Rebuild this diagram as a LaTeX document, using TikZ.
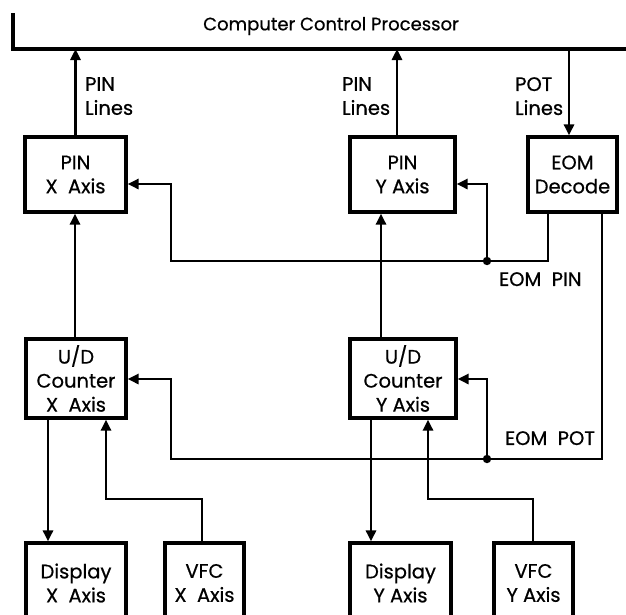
\documentclass[tikz,border=0pt]{standalone}
\usepackage{fontspec}
\setmainfont{Poppins}[FakeBold=0.6]
\usetikzlibrary{arrows.meta}
\tikzset{
  blk/.style={draw, line width=3.2pt, align=center, inner sep=0pt, font=\fontsize{19.5}{24}\selectfont},
  sig/.style={line width=2.8pt, -{Triangle[length=11pt,width=10pt]}},
  lbl/.style={align=left, anchor=north west, inner sep=0pt, font=\fontsize{19.5}{24}\selectfont},
}
\begin{document}
\begin{tikzpicture}[x=1pt,y=-1pt]
    \clip (0,0) rectangle (626,614);
    % processor bus
    \draw[line width=3.2pt] (13,13) -- (13,49) -- (626,49);
    \coordinate (bus) at (13,49);
    \node[font=\fontsize{18}{20}\selectfont] (cpu) at (331,26) {Computer Control Processor};
    % upper row
    \node[blk, minimum width=101pt, minimum height=75pt] (pinx) at (75.5,174.5) {PIN\\X\ \ Axis};
    \node[blk, minimum width=105pt, minimum height=75pt] (piny) at (402.5,174.5) {PIN\\Y Axis};
    \node[blk, minimum width=89pt, minimum height=75pt] (eom) at (572.5,174.5) {EOM\\Decode};
    % counters
    \node[blk, minimum width=100pt, minimum height=79pt] (udx) at (76,378.5) {U/D\\Counter\\X\ \ Axis};
    \node[blk, minimum width=106pt, minimum height=79pt] (udy) at (403,378.5) {U/D\\Counter\\Y Axis};
    % bottom row
    \node[blk, minimum width=100pt, minimum height=80pt] (dispx) at (76,583) {Display\\X\ \ Axis};
    \node[blk, minimum width=79pt, minimum height=80pt] (vfcx) at (204.5,583) {VFC\\X\ \ Axis};
    \node[blk, minimum width=101pt, minimum height=80pt] (dispy) at (400.5,583) {Display\\Y Axis};
    \node[blk, minimum width=79pt, minimum height=80pt] (vfcy) at (533.5,583) {VFC\\Y Axis};
    % lines to and from the bus
    \draw[sig] (pinx.north) -- (pinx.north |- bus);
    \draw[sig] (397,0 |- piny.north) -- (397,0 |- bus);
    \draw[sig] (569,0 |- bus) -- (569,0 |- eom.north);
    \node[lbl] (pinlx) at (85,77) {PIN\\Lines};
    \node[lbl] (pinly) at (342,77) {PIN\\Lines};
    \node[lbl] (potl) at (515,77) {POT\\Lines};
    % EOM PIN
    \coordinate (jpin) at (487,261);
    \draw[sig] (548,0 |- eom.south) -- (548,261) -- (171,261) -- (171,184) -- (pinx.east |- 0,184);
    \draw[sig] (jpin) -- (487,184) -- (piny.east |- 0,184);
    \fill (jpin) circle (4.2pt);
    \node[lbl] (eompin) at (499,272) {EOM\ \ PIN};
    % EOM POT
    \coordinate (jpot) at (487,459);
    \draw[sig] (602,0 |- eom.south) -- (602,459) -- (171,459) -- (171,379) -- (udx.east |- 0,379);
    \draw[sig] (jpot) -- (487,379) -- (udy.east |- 0,379);
    \fill (jpot) circle (4.2pt);
    \node[lbl] (eompot) at (505,431) {EOM\ \ POT};
    % counters to PIN
    \draw[sig] (75,0 |- udx.north) -- (75,0 |- pinx.south);
    \draw[sig] (381,0 |- udy.north) -- (381,0 |- piny.south);
    % display and VFC
    \draw[sig] (48,0 |- udx.south) -- (48,0 |- dispx.north);
    \draw[sig] (202,0 |- vfcx.north) -- (202,499) -- (106,499) -- (106,0 |- udx.south);
    \draw[sig] (371,0 |- udy.south) -- (371,0 |- dispy.north);
    \draw[sig] (533,0 |- vfcy.north) -- (533,499) -- (428,499) -- (428,0 |- udy.south);
\end{tikzpicture}
\end{document}
